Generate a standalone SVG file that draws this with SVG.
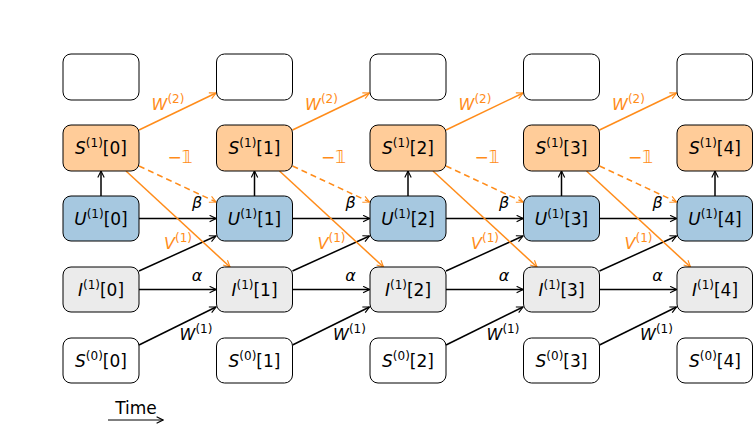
<svg xmlns="http://www.w3.org/2000/svg" width="753" height="427" viewBox="0 0 753 427">
<defs>
<marker id="ab" viewBox="0 0 10 10" refX="9" refY="5" markerWidth="8" markerHeight="8" orient="auto" markerUnits="userSpaceOnUse"><path d="M1,1 L9,5 L1,9" fill="none" stroke="#000" stroke-width="1.4"/></marker>
<marker id="ao" viewBox="0 0 10 10" refX="9" refY="5" markerWidth="8" markerHeight="8" orient="auto" markerUnits="userSpaceOnUse"><path d="M1,1 L9,5 L1,9" fill="none" stroke="#FF8C1A" stroke-width="1.4"/></marker>
</defs>
<style>
rect{stroke:#000;stroke-width:1;}
.e{fill:#fff}.s{fill:#FFCC99}.u{fill:#A6C8E0}.i{fill:#EBEBEB}
text{font-family:"DejaVu Sans","Liberation Sans",sans-serif;font-size:17px;text-anchor:middle;fill:#000}
.sup{font-size:12px}
.k{stroke:#000;stroke-width:1.5;fill:none;marker-end:url(#ab)}
.o{stroke:#FF8C1A;stroke-width:1.5;fill:none;marker-end:url(#ao)}
.d{stroke-dasharray:6,4}
.lo{fill:#FF8C1A;font-style:italic;font-size:16px}
.lk{font-style:italic;font-size:16px}
</style>
<g id="connectors">
<!-- col 0 -> 1 -->
<g transform="translate(0,0)">
<line class="k" x1="101" y1="196" x2="101" y2="171"/>
<line class="k" x1="139" y1="218.5" x2="216" y2="218.5"/>
<line class="k" x1="139" y1="289.5" x2="216" y2="289.5"/>
<line class="k" x1="139" y1="271" x2="216" y2="236"/>
<line class="k" x1="139" y1="345" x2="216" y2="307"/>
<line class="o" x1="139" y1="130" x2="216" y2="93"/>
<line class="o d" x1="139" y1="166" x2="216" y2="202"/>
<line class="o" x1="126" y1="171" x2="230" y2="267"/>
</g>
<g transform="translate(153.5,0)">
<line class="k" x1="101" y1="196" x2="101" y2="171"/>
<line class="k" x1="139" y1="218.5" x2="216" y2="218.5"/>
<line class="k" x1="139" y1="289.5" x2="216" y2="289.5"/>
<line class="k" x1="139" y1="271" x2="216" y2="236"/>
<line class="k" x1="139" y1="345" x2="216" y2="307"/>
<line class="o" x1="139" y1="130" x2="216" y2="93"/>
<line class="o d" x1="139" y1="166" x2="216" y2="202"/>
<line class="o" x1="126" y1="171" x2="230" y2="267"/>
</g>
<g transform="translate(307,0)">
<line class="k" x1="101" y1="196" x2="101" y2="171"/>
<line class="k" x1="139" y1="218.5" x2="216" y2="218.5"/>
<line class="k" x1="139" y1="289.5" x2="216" y2="289.5"/>
<line class="k" x1="139" y1="271" x2="216" y2="236"/>
<line class="k" x1="139" y1="345" x2="216" y2="307"/>
<line class="o" x1="139" y1="130" x2="216" y2="93"/>
<line class="o d" x1="139" y1="166" x2="216" y2="202"/>
<line class="o" x1="126" y1="171" x2="230" y2="267"/>
</g>
<g transform="translate(460.5,0)">
<line class="k" x1="101" y1="196" x2="101" y2="171"/>
<line class="k" x1="139" y1="218.5" x2="216" y2="218.5"/>
<line class="k" x1="139" y1="289.5" x2="216" y2="289.5"/>
<line class="k" x1="139" y1="271" x2="216" y2="236"/>
<line class="k" x1="139" y1="345" x2="216" y2="307"/>
<line class="o" x1="139" y1="130" x2="216" y2="93"/>
<line class="o d" x1="139" y1="166" x2="216" y2="202"/>
<line class="o" x1="126" y1="171" x2="230" y2="267"/>
</g>
<line class="k" x1="715" y1="196" x2="715" y2="171"/>
<line x1="108" y1="420" x2="163" y2="420" stroke="#000" stroke-width="1" marker-end="url(#ab)"/>
</g>
<g id="labels">
<g transform="translate(0,0)"><text class="lo" x="168" y="110">W<tspan class="sup" dy="-7" font-style="normal">(2)</tspan></text><text x="180" y="163" fill="#FF8C1A" style="fill:#FF8C1A">−𝟙</text><text class="lk" x="197" y="208">β</text><text class="lo" x="178" y="249">V<tspan class="sup" dy="-7" font-style="normal">(1)</tspan></text><text class="lk" x="197" y="281">α</text><text class="lk" x="196" y="340">W<tspan class="sup" dy="-7" font-style="normal">(1)</tspan></text></g>
<g transform="translate(153.5,0)"><text class="lo" x="168" y="110">W<tspan class="sup" dy="-7" font-style="normal">(2)</tspan></text><text x="180" y="163" style="fill:#FF8C1A">−𝟙</text><text class="lk" x="197" y="208">β</text><text class="lo" x="178" y="249">V<tspan class="sup" dy="-7" font-style="normal">(1)</tspan></text><text class="lk" x="197" y="281">α</text><text class="lk" x="196" y="340">W<tspan class="sup" dy="-7" font-style="normal">(1)</tspan></text></g>
<g transform="translate(307,0)"><text class="lo" x="168" y="110">W<tspan class="sup" dy="-7" font-style="normal">(2)</tspan></text><text x="180" y="163" style="fill:#FF8C1A">−𝟙</text><text class="lk" x="197" y="208">β</text><text class="lo" x="178" y="249">V<tspan class="sup" dy="-7" font-style="normal">(1)</tspan></text><text class="lk" x="197" y="281">α</text><text class="lk" x="196" y="340">W<tspan class="sup" dy="-7" font-style="normal">(1)</tspan></text></g>
<g transform="translate(460.5,0)"><text class="lo" x="168" y="110">W<tspan class="sup" dy="-7" font-style="normal">(2)</tspan></text><text x="180" y="163" style="fill:#FF8C1A">−𝟙</text><text class="lk" x="197" y="208">β</text><text class="lo" x="178" y="249">V<tspan class="sup" dy="-7" font-style="normal">(1)</tspan></text><text class="lk" x="197" y="281">α</text><text class="lk" x="196" y="340">W<tspan class="sup" dy="-7" font-style="normal">(1)</tspan></text></g>
<text x="136" y="414">Time</text>
</g>
<g id="col0" transform="translate(63,0)">
<g id="top0"><rect class="e" x="0" y="54" width="76" height="46" rx="8"/></g>
<g id="s1_0"><rect class="s" x="0" y="125" width="76" height="46" rx="8"/><text x="38" y="154"><tspan font-style="italic">S</tspan><tspan class="sup" dy="-7">(1)</tspan><tspan dy="7">[0]</tspan></text></g>
<g id="u0"><rect class="u" x="0" y="196" width="76" height="45" rx="8"/><text x="38" y="225"><tspan font-style="italic">U</tspan><tspan class="sup" dy="-7">(1)</tspan><tspan dy="7">[0]</tspan></text></g>
<g id="i0"><rect class="i" x="0" y="267" width="76" height="45" rx="8"/><text x="38" y="296"><tspan font-style="italic">I</tspan><tspan class="sup" dy="-7">(1)</tspan><tspan dy="7">[0]</tspan></text></g>
<g id="s0_0"><rect class="e" x="0" y="338" width="76" height="45" rx="8"/><text x="38" y="367"><tspan font-style="italic">S</tspan><tspan class="sup" dy="-7">(0)</tspan><tspan dy="7">[0]</tspan></text></g>
</g>
<g id="col1" transform="translate(216.5,0)">
<g id="top1"><rect class="e" x="0" y="54" width="76" height="46" rx="8"/></g>
<g id="s1_1"><rect class="s" x="0" y="125" width="76" height="46" rx="8"/><text x="38" y="154"><tspan font-style="italic">S</tspan><tspan class="sup" dy="-7">(1)</tspan><tspan dy="7">[1]</tspan></text></g>
<g id="u1"><rect class="u" x="0" y="196" width="76" height="45" rx="8"/><text x="38" y="225"><tspan font-style="italic">U</tspan><tspan class="sup" dy="-7">(1)</tspan><tspan dy="7">[1]</tspan></text></g>
<g id="i1"><rect class="i" x="0" y="267" width="76" height="45" rx="8"/><text x="38" y="296"><tspan font-style="italic">I</tspan><tspan class="sup" dy="-7">(1)</tspan><tspan dy="7">[1]</tspan></text></g>
<g id="s0_1"><rect class="e" x="0" y="338" width="76" height="45" rx="8"/><text x="38" y="367"><tspan font-style="italic">S</tspan><tspan class="sup" dy="-7">(0)</tspan><tspan dy="7">[1]</tspan></text></g>
</g>
<g id="col2" transform="translate(370,0)">
<g id="top2"><rect class="e" x="0" y="54" width="76" height="46" rx="8"/></g>
<g id="s1_2"><rect class="s" x="0" y="125" width="76" height="46" rx="8"/><text x="38" y="154"><tspan font-style="italic">S</tspan><tspan class="sup" dy="-7">(1)</tspan><tspan dy="7">[2]</tspan></text></g>
<g id="u2"><rect class="u" x="0" y="196" width="76" height="45" rx="8"/><text x="38" y="225"><tspan font-style="italic">U</tspan><tspan class="sup" dy="-7">(1)</tspan><tspan dy="7">[2]</tspan></text></g>
<g id="i2"><rect class="i" x="0" y="267" width="76" height="45" rx="8"/><text x="38" y="296"><tspan font-style="italic">I</tspan><tspan class="sup" dy="-7">(1)</tspan><tspan dy="7">[2]</tspan></text></g>
<g id="s0_2"><rect class="e" x="0" y="338" width="76" height="45" rx="8"/><text x="38" y="367"><tspan font-style="italic">S</tspan><tspan class="sup" dy="-7">(0)</tspan><tspan dy="7">[2]</tspan></text></g>
</g>
<g id="col3" transform="translate(523.5,0)">
<g id="top3"><rect class="e" x="0" y="54" width="76" height="46" rx="8"/></g>
<g id="s1_3"><rect class="s" x="0" y="125" width="76" height="46" rx="8"/><text x="38" y="154"><tspan font-style="italic">S</tspan><tspan class="sup" dy="-7">(1)</tspan><tspan dy="7">[3]</tspan></text></g>
<g id="u3"><rect class="u" x="0" y="196" width="76" height="45" rx="8"/><text x="38" y="225"><tspan font-style="italic">U</tspan><tspan class="sup" dy="-7">(1)</tspan><tspan dy="7">[3]</tspan></text></g>
<g id="i3"><rect class="i" x="0" y="267" width="76" height="45" rx="8"/><text x="38" y="296"><tspan font-style="italic">I</tspan><tspan class="sup" dy="-7">(1)</tspan><tspan dy="7">[3]</tspan></text></g>
<g id="s0_3"><rect class="e" x="0" y="338" width="76" height="45" rx="8"/><text x="38" y="367"><tspan font-style="italic">S</tspan><tspan class="sup" dy="-7">(0)</tspan><tspan dy="7">[3]</tspan></text></g>
</g>
<g id="col4" transform="translate(677,0)">
<g id="top4"><rect class="e" x="0" y="54" width="75.5" height="46" rx="8"/></g>
<g id="s1_4"><rect class="s" x="0" y="125" width="75.5" height="46" rx="8"/><text x="38" y="154"><tspan font-style="italic">S</tspan><tspan class="sup" dy="-7">(1)</tspan><tspan dy="7">[4]</tspan></text></g>
<g id="u4"><rect class="u" x="0" y="196" width="75.5" height="45" rx="8"/><text x="38" y="225"><tspan font-style="italic">U</tspan><tspan class="sup" dy="-7">(1)</tspan><tspan dy="7">[4]</tspan></text></g>
<g id="i4"><rect class="i" x="0" y="267" width="75.5" height="45" rx="8"/><text x="38" y="296"><tspan font-style="italic">I</tspan><tspan class="sup" dy="-7">(1)</tspan><tspan dy="7">[4]</tspan></text></g>
<g id="s0_4"><rect class="e" x="0" y="338" width="75.5" height="45" rx="8"/><text x="38" y="367"><tspan font-style="italic">S</tspan><tspan class="sup" dy="-7">(0)</tspan><tspan dy="7">[4]</tspan></text></g>
</g>
</svg>
